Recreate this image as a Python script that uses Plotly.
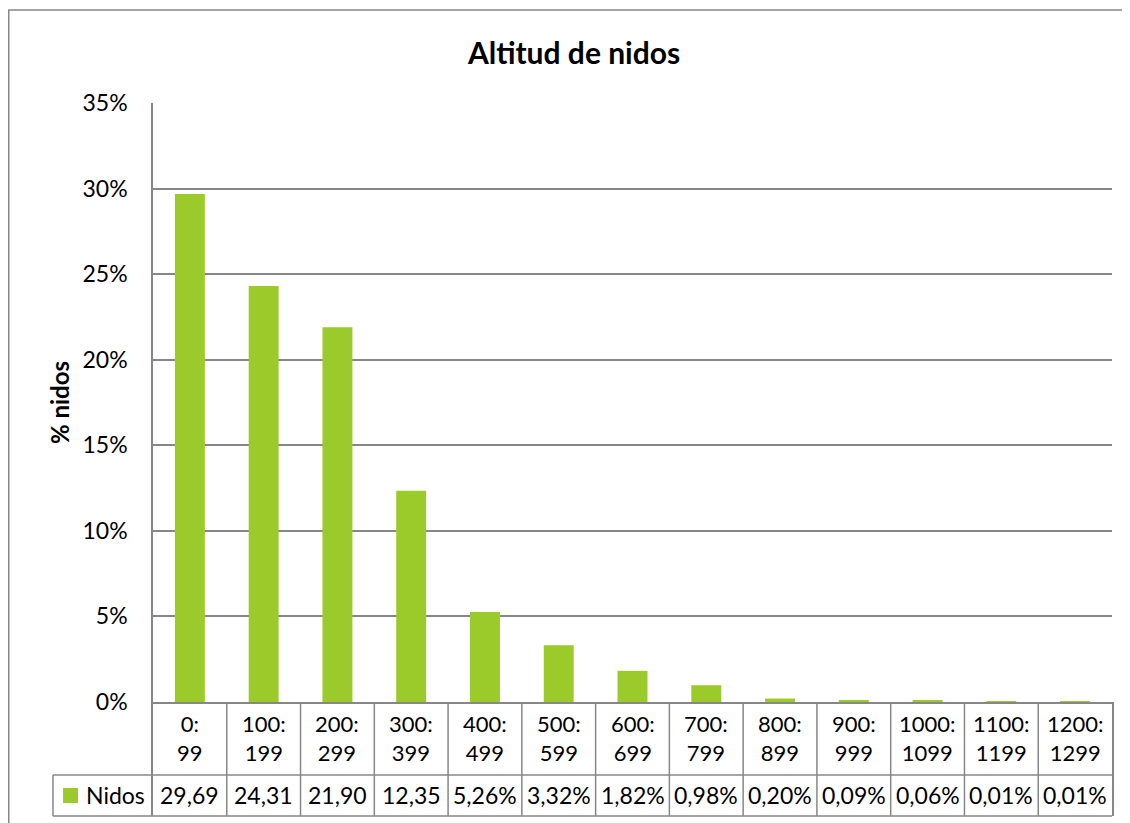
import plotly.graph_objects as go

# altitude bins (m) and share of nests per bin
bins_from = [0, 100, 200, 300, 400, 500, 600, 700, 800, 900, 1000, 1100, 1200]
bins_to = [99, 199, 299, 399, 499, 599, 699, 799, 899, 999, 1099, 1199, 1299]
nidos_pct = [29.69, 24.31, 21.90, 12.35, 5.26, 3.32, 1.82, 0.98, 0.20, 0.09, 0.06, 0.01, 0.01]
# text as printed in the data table (first cells are clipped by Excel)
nidos_txt = ["29,69", "24,31", "21,90", "12,35", "5,26%", "3,32%", "1,82%",
             "0,98%", "0,20%", "0,09%", "0,06%", "0,01%", "0,01%"]
y_ticks = [0, 5, 10, 15, 20, 25, 30, 35]

GREEN = "#9ACB2A"
GREY = "#878787"
FONT = "Lato"

categories = [f"{a}: {b}" for a, b in zip(bins_from, bins_to)]
n = len(categories)

fig = go.Figure()
fig.add_trace(go.Bar(
    x=list(range(n)),
    y=nidos_pct,
    marker=dict(color=GREEN, line=dict(width=0)),
    name="Nidos",
    hovertext=categories,
    showlegend=False,
))
# invisible helper trace so the table subplot (x, y2) exists
fig.add_trace(go.Scatter(x=[0], y=[0.5], xaxis="x", yaxis="y2", mode="markers",
                         marker=dict(opacity=0), showlegend=False, hoverinfo="skip"))

ROW_SPLIT = 0.36   # boundary between category row and value row (y2 units)
TABLE_H = 0.1599   # share of plot height used by the data table

# data table: category row and value row
for i, (a, b) in enumerate(zip(bins_from, bins_to)):
    fig.add_annotation(x=i, y=(1 + ROW_SPLIT) / 2, xref="x", yref="y2",
                       text=f"{a}:<br>{b}", showarrow=False, align="center",
                       font=dict(size=22, color="black", family=FONT))
    fig.add_annotation(x=i, y=ROW_SPLIT / 2, xref="x", yref="y2",
                       text=nidos_txt[i], showarrow=False,
                       font=dict(size=23, color="black", family=FONT))

line = dict(color=GREY, width=1.5)
# inner vertical lines between categories
for i in range(n - 1):
    fig.add_shape(type="line", xref="x", yref="y2 domain",
                  x0=i + 0.5, x1=i + 0.5, y0=0, y1=1, line=line)
# horizontal lines of the value row, extended to the legend cell
legend_left = -0.1043
for yy in (0, ROW_SPLIT):
    fig.add_shape(type="line", xref="x domain", yref="y2 domain",
                  x0=legend_left, x1=1, y0=yy, y1=yy, line=line)
fig.add_shape(type="line", xref="x domain", yref="y2 domain",
              x0=legend_left, x1=legend_left, y0=0, y1=ROW_SPLIT, line=line)
# legend key inside the table
fig.add_shape(type="rect", xref="x domain", yref="y2 domain",
              x0=-0.0938, x1=-0.0782, y0=0.114, y1=0.2456,
              fillcolor=GREEN, line=dict(width=0))
fig.add_annotation(x=-0.0720, y=ROW_SPLIT / 2, xref="x domain", yref="y2",
                   text="Nidos", showarrow=False, xanchor="left",
                   font=dict(size=23, color="black", family=FONT))

# chart area border
fig.add_shape(type="rect", xref="paper", yref="paper",
              x0=-0.1504, x1=1.05, y0=-0.05, y1=1.1304,
              line=dict(color=GREY, width=1.5), fillcolor="rgba(0,0,0,0)")

# page adds an 8px body margin, so the figure is 8px smaller than the window
fig.update_layout(
    width=1122,
    height=815,
    margin=dict(l=145, r=18, t=95, b=7),
    paper_bgcolor="white",
    plot_bgcolor="white",
    bargap=0.594,
    font=dict(family=FONT, size=23, color="black"),
    title=dict(text="<b>Altitud de nidos</b>", x=0.5045, xref="container",
               y=1 - 45 / 815, yref="container", xanchor="center", yanchor="middle",
               font=dict(size=30, family=FONT, color="black")),
    xaxis=dict(range=[-0.5, n - 0.5], showticklabels=False, showgrid=False,
               zeroline=False, showline=True, linecolor=GREY, linewidth=1.5,
               ticks="", anchor="y", automargin=False),
    yaxis=dict(domain=[TABLE_H, 1], range=[0, 35], tickvals=y_ticks,
               ticktext=[f"{v}%" for v in y_ticks], showgrid=True,
               gridcolor=GREY, gridwidth=1.5, zeroline=False, showline=True,
               linecolor=GREY, linewidth=1.5, ticks="", ticklabelstandoff=19,
               tickfont=dict(size=23, family=FONT, color="black"),
               title=dict(text="<b>% nidos</b>", standoff=6,
                          font=dict(size=24, family=FONT, color="black")),
               automargin=False),
    yaxis2=dict(domain=[0, TABLE_H], range=[0, 1], anchor="x", showgrid=False,
                showticklabels=False, zeroline=False, showline=True, mirror=True,
                linecolor=GREY, linewidth=1.5, ticks="", automargin=False),
)

fig.write_html("out.html")
